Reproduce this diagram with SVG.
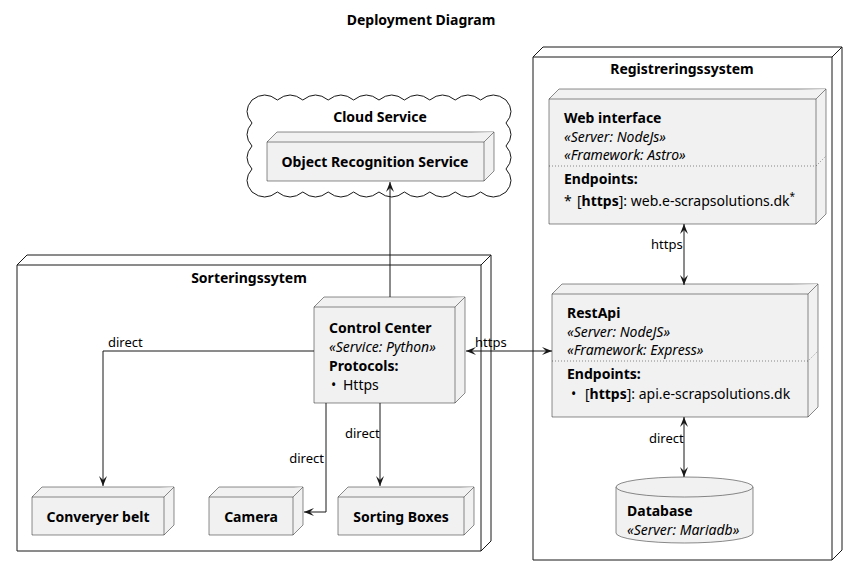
<svg xmlns="http://www.w3.org/2000/svg" width="857" height="576" viewBox="0 0 857 576">
<defs>
<style>
text{font-family:"Noto Sans","DejaVu Sans",sans-serif;fill:#000}
.t{font-size:14px;font-weight:bold}
.n{font-size:14px}
.i{font-size:14px;font-style:italic}
.l{font-size:13px}
.c{text-anchor:middle}
.node{fill:#F1F1F1;stroke:#181818;stroke-width:0.5}
.frame{fill:#FFFFFF;stroke:#181818;stroke-width:1}
.edge{fill:none;stroke:#181818;stroke-width:1}
.dot{fill:none;stroke:#181818;stroke-width:0.5;stroke-dasharray:1,2}
</style>
<marker id="ah" viewBox="0 0 10 10" refX="10" refY="5" markerWidth="10" markerHeight="10" markerUnits="userSpaceOnUse" orient="auto-start-reverse">
<path d="M10,5 L0,1 L4,5 L0,9 Z" fill="#181818"/>
</marker>
</defs>
<rect width="857" height="576" fill="#FFFFFF"/>
<text class="t c" x="421" y="25">Deployment Diagram</text>

<g id="sorteringssytem">
<path class="frame" d="M17 265 L27 255 L491 255 L491 541 L481 551 L17 551 Z"/>
<path class="edge" d="M17 265 L481 265 L491 255 M481 265 L481 551"/>
<text class="t c" x="249" y="283">Sorteringssytem</text>
</g>

<g id="registreringssystem">
<path class="frame" d="M533 57 L543 47 L842 47 L842 550 L832 560 L533 560 Z"/>
<path class="edge" d="M533 57 L832 57 L842 47 M832 57 L832 560"/>
<text class="t c" x="682" y="74">Registreringssystem</text>
</g>

<g id="cloud">
<path class="frame" d="M252 100 q12.7 -10 25.4 0 q12.7 -10 25.4 0 q12.7 -10 25.4 0 q12.7 -10 25.4 0 q12.7 -10 25.4 0 q12.7 -10 25.4 0 q12.7 -10 25.4 0 q12.7 -10 25.4 0 q12.7 -10 25.4 0 q12.7 -10 25.4 0 q10 11.5 0 23 q10 11.5 0 23 q10 11.5 0 23 q10 11.5 0 23 q-12.7 10 -25.4 0 q-12.7 10 -25.4 0 q-12.7 10 -25.4 0 q-12.7 10 -25.4 0 q-12.7 10 -25.4 0 q-12.7 10 -25.4 0 q-12.7 10 -25.4 0 q-12.7 10 -25.4 0 q-12.7 10 -25.4 0 q-12.7 10 -25.4 0 q-10 -11.5 0 -23 q-10 -11.5 0 -23 q-10 -11.5 0 -23 q-10 -11.5 0 -23 Z"/>
<text class="t c" x="380" y="122">Cloud Service</text>
</g>

<g id="ors">
<path class="node" d="M267 142 L277 132 L494 132 L494 171 L484 181 L267 181 Z"/>
<path class="node" d="M267 142 L484 142 L494 132 M484 142 L484 181" fill="none"/>
<text class="t c" x="375" y="167">Object Recognition Service</text>
</g>

<g id="control-center">
<path class="node" d="M314 307 L324 297 L465 297 L465 393 L455 403 L314 403 Z"/>
<path class="node" d="M314 307 L455 307 L465 297 M455 307 L455 403" fill="none"/>
<text class="t" x="329" y="333">Control Center</text>
<text class="i" x="329" y="352">«Service: Python»</text>
<text class="t" x="329" y="371">Protocols:</text>
<text class="n" x="331" y="390">•</text>
<text class="n" x="343" y="390">Https</text>
</g>

<g id="conveyer">
<path class="node" d="M32 497 L42 487 L174 487 L174 525 L164 535 L32 535 Z"/>
<path class="node" d="M32 497 L164 497 L174 487 M164 497 L164 535" fill="none"/>
<text class="t c" x="98" y="522">Converyer belt</text>
</g>

<g id="camera">
<path class="node" d="M209 497 L219 487 L303 487 L303 525 L293 535 L209 535 Z"/>
<path class="node" d="M209 497 L293 497 L303 487 M293 497 L293 535" fill="none"/>
<text class="t c" x="251" y="522">Camera</text>
</g>

<g id="sorting-boxes">
<path class="node" d="M338 497 L348 487 L474 487 L474 525 L464 535 L338 535 Z"/>
<path class="node" d="M338 497 L464 497 L474 487 M464 497 L464 535" fill="none"/>
<text class="t c" x="401" y="522">Sorting Boxes</text>
</g>

<g id="web-interface">
<path class="node" d="M549 99 L559 89 L826 89 L826 214 L816 224 L549 224 Z"/>
<path class="node" d="M549 99 L816 99 L826 89 M816 99 L816 224" fill="none"/>
<path class="dot" d="M549 166 L816 166 L826 156"/>
<text class="t" x="564" y="123">Web interface</text>
<text class="i" x="564" y="142">«Server: NodeJs»</text>
<text class="i" x="564" y="160">«Framework: Astro»</text>
<text class="t" x="564" y="184">Endpoints:</text>
<text class="n" x="564" y="206">*</text>
<text class="n" x="577" y="206" font-size="14.3">[<tspan font-weight="bold">https</tspan>]: web.e-scrapsolutions.dk<tspan font-size="10" dy="-6">*</tspan></text>
</g>

<g id="restapi">
<path class="node" d="M552 294 L562 284 L818 284 L818 407 L808 417 L552 417 Z"/>
<path class="node" d="M552 294 L808 294 L818 284 M808 294 L808 417" fill="none"/>
<path class="dot" d="M552 361 L808 361 L818 351"/>
<text class="t" x="567" y="318">RestApi</text>
<text class="i" x="567" y="337">«Server: NodeJS»</text>
<text class="i" x="567" y="355">«Framework: Express»</text>
<text class="t" x="567" y="379">Endpoints:</text>
<text class="n" x="571" y="399">•</text>
<text class="n" x="585" y="399">[<tspan font-weight="bold">https</tspan>]: api.e-scrapsolutions.dk</text>
</g>

<g id="database">
<path class="node" d="M616 487 L616 533 A68.5 10 0 0 0 753 533 L753 487 Z"/>
<ellipse class="node" cx="684.5" cy="487" rx="68.5" ry="10"/>
<text class="t" x="627" y="516">Database</text>
<text class="i" x="627" y="535">«Server: Mariadb»</text>
</g>

<g id="connectors">
<path class="edge" d="M390 297 L390 182" marker-end="url(#ah)"/>
<path class="edge" d="M314 351 L103 351 L103 486" marker-end="url(#ah)"/>
<text class="l" x="108" y="347">direct</text>
<path class="edge" d="M326 403 L326 512 L304 512" marker-end="url(#ah)"/>
<text class="l" x="324" y="463" text-anchor="end">direct</text>
<path class="edge" d="M380 403 L380 486" marker-end="url(#ah)"/>
<text class="l" x="345" y="438">direct</text>
<path class="edge" d="M466 351 L552 351" marker-start="url(#ah)" marker-end="url(#ah)"/>
<text class="l" x="475" y="347">https</text>
<path class="edge" d="M684 224 L684 285" marker-start="url(#ah)" marker-end="url(#ah)"/>
<text class="l" x="651" y="249">https</text>
<path class="edge" d="M684 417 L684 477" marker-start="url(#ah)" marker-end="url(#ah)"/>
<text class="l" x="649" y="443">direct</text>
</g>
</svg>
